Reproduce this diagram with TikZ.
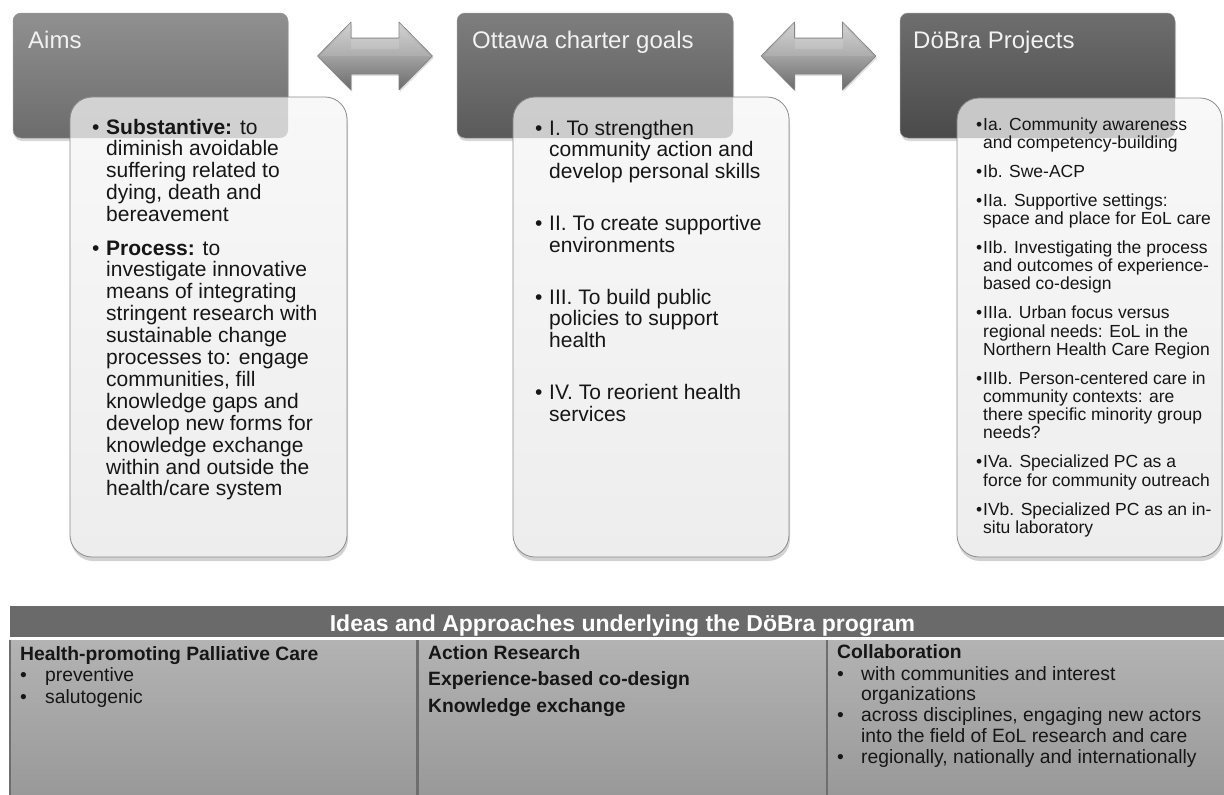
\documentclass[tikz,border=0pt]{standalone}
\usepackage{fontspec}
\setmainfont{Liberation Sans}
\usetikzlibrary{shadows}
\definecolor{hA1}{HTML}{909090}\definecolor{hA2}{HTML}{6C6C6C}
\definecolor{hB1}{HTML}{7E7E7E}\definecolor{hB2}{HTML}{5A5A5A}
\definecolor{hC1}{HTML}{6E6E6E}\definecolor{hC2}{HTML}{4A4A4A}
\definecolor{cb1}{HTML}{F8F8F8}\definecolor{cb2}{HTML}{EDEDED}
\definecolor{cbd}{HTML}{8C8C8C}
\definecolor{tbarc}{HTML}{6A6A6A}
\definecolor{tb1}{HTML}{B3B3B3}\definecolor{tb2}{HTML}{999999}
\definecolor{tdiv}{HTML}{6E6E6E}
\definecolor{ink}{HTML}{161616}
\definecolor{arw1}{HTML}{CDCDCD}\definecolor{arw2}{HTML}{A2A2A2}\definecolor{arw3}{HTML}{6A6A6A}
\newcommand{\bitem}[2]{\hangindent=#1\hangafter=1\noindent\makebox[#1][l]{\textbullet}#2\par}
\tikzset{
  hdr/.style={rectangle, rounded corners=8pt, minimum width=275pt, minimum height=125pt,
    inner sep=0pt, outer sep=0pt, draw=black!40, line width=0.5pt,
    drop shadow={shadow xshift=1pt, shadow yshift=-3pt, opacity=0.3}},
  hdrtext/.style={anchor=base west, inner sep=0pt, text=white!95!black,
    font=\fontsize{24}{28}\selectfont},
  cbox/.style={rectangle, rounded corners=22pt, inner sep=0pt, outer sep=0pt,
    top color=cb1, bottom color=cb2, draw=cbd, line width=0.8pt,
    drop shadow={shadow xshift=1pt, shadow yshift=-4pt, opacity=0.35}},
  bodytext/.style={anchor=base west, inner sep=0pt, text=ink},
  arrowshape/.style={top color=arw1, bottom color=arw3, middle color=arw2,
    draw=black!50, line width=0.6pt, line join=round,
    drop shadow={shadow xshift=1pt, shadow yshift=-2pt, opacity=0.25}},
  titlebar/.style={rectangle, fill=tbarc, inner sep=0pt, outer sep=0pt},
  tcell/.style={rectangle, top color=tb1, bottom color=tb2, inner sep=0pt, outer sep=0pt,
    minimum height=155pt},
  divider/.style={draw=tdiv, line width=2.5pt},
  dblarrow/.pic={
    \path[arrowshape] (-57.5,0) -- (-24,-34) -- (-24,-18) -- (24,-18) -- (24,-34)
      -- (57.5,0) -- (24,34) -- (24,18) -- (-24,18) -- (-24,34) -- cycle;
    \fill[white, opacity=0.14] (-24,-17) rectangle (24,-7);
    \fill[white, opacity=0.12] (-55,0) -- (-24,-31) -- (-24,-17) -- (24,-17) -- (24,-31)
      -- (55,0) -- cycle;
  }
}
\begin{document}
\begin{tikzpicture}[x=1pt, y=-1pt]
\useasboundingbox (0,0) rectangle (1224,795);
\fill[white] (0,0) rectangle (1224,795);

% headers
\node[hdr, top color=hA1, bottom color=hA2] (aimsH) at (150.5,75.5) {};
\node[hdr, top color=hB1, bottom color=hB2, minimum width=276pt] (ottH) at (595,75.5) {};
\node[hdr, top color=hC1, bottom color=hC2] (dobH) at (1037.5,75.5) {};
\node[hdrtext] (aimsT) at (28,48) {Aims};
\node[hdrtext] (ottT) at (472,48) {Ottawa charter goals};
\node[hdrtext] (dobT) at (913,48) {DöBra Projects};

% double arrows
\pic (arrA) at (375,56) {dblarrow};
\pic (arrB) at (818.5,56) {dblarrow};

% content boxes
\node[cbox, minimum width=277pt, minimum height=460pt] (aimsC) at (208.5,327) {};
\node[cbox, minimum width=276pt, minimum height=460pt] (ottC) at (651,327) {};
\node[cbox, minimum width=265pt, minimum height=459pt] (dobC) at (1089.5,327.5) {};

% header showing through the content boxes
\begin{scope}
  \clip[rounded corners=22pt] (aimsC.north west) rectangle (aimsC.south east);
  \fill[hA2, opacity=0.27, rounded corners=8pt] (aimsH.north west) rectangle (aimsH.south east);
\end{scope}
\begin{scope}
  \clip[rounded corners=22pt] (ottC.north west) rectangle (ottC.south east);
  \fill[hB2, opacity=0.27, rounded corners=8pt] (ottH.north west) rectangle (ottH.south east);
\end{scope}
\begin{scope}
  \clip[rounded corners=22pt] (dobC.north west) rectangle (dobC.south east);
  \fill[hC2, opacity=0.27, rounded corners=8pt] (dobH.north west) rectangle (dobH.south east);
\end{scope}

% content texts
\node[bodytext] (aimsL) at (92,134) {\parbox[t]{250pt}{\fontsize{21}{21.9}\selectfont
\bitem{14pt}{\textbf{Substantive:} to\\diminish avoidable\\suffering related to\\dying, death and\\bereavement}
\vspace{11.5pt}
\bitem{14pt}{\textbf{Process:} to\\investigate innovative\\means of integrating\\stringent research with\\sustainable change\\processes to: engage\\communities, fill\\knowledge gaps and\\develop new forms for\\knowledge exchange\\within and outside the\\health/care system}}};

\node[bodytext] (ottL) at (535,135) {\parbox[t]{250pt}{\fontsize{21}{21.7}\selectfont
\bitem{14pt}{I. To strengthen\\community action and\\develop personal skills}
\vspace{30.3pt}
\bitem{14pt}{II. To create supportive\\environments}
\vspace{30.3pt}
\bitem{14pt}{III. To build public\\policies to support\\health}
\vspace{30.3pt}
\bitem{14pt}{IV. To reorient health\\services}}};

\node[bodytext] (dobL) at (976,130) {\parbox[t]{245pt}{\fontsize{17.5}{18.2}\selectfont
\bitem{7pt}{Ia. Community awareness\\and competency-building}
\vspace{10.8pt}
\bitem{7pt}{Ib. Swe-ACP}
\vspace{10.8pt}
\bitem{7pt}{IIa. Supportive settings:\\space and place for EoL care}
\vspace{10.8pt}
\bitem{7pt}{IIb. Investigating the process\\and outcomes of experience-\\based co-design}
\vspace{10.8pt}
\bitem{7pt}{IIIa. Urban focus versus\\regional needs: EoL in the\\Northern Health Care Region}
\vspace{10.8pt}
\bitem{7pt}{IIIb. Person-centered care in\\community contexts: are\\there specific minority group\\needs?}
\vspace{10.8pt}
\bitem{7pt}{IVa. Specialized PC as a\\force for community outreach}
\vspace{10.8pt}
\bitem{7pt}{IVb. Specialized PC as an in-\\situ laboratory}}};

% bottom table
\node[titlebar, minimum width=1214pt, minimum height=31pt] (tbar) at (617,621.5) {};
\node[anchor=base, inner sep=0pt, text=white, font=\fontsize{23}{26}\selectfont\bfseries]
  (ttl) at (622.5,631) {Ideas and Approaches underlying the DöBra program};
\node[tcell, minimum width=407.5pt] (c1) at (213.75,717.5) {};
\node[tcell, minimum width=409.5pt] (c2) at (622.25,717.5) {};
\node[tcell, minimum width=397pt] (c3) at (1025.5,717.5) {};
\draw[divider] (c1.north west) -- (c1.south west);
\draw[divider] (c1.north east) -- (c1.south east);
\draw[divider] (c2.north east) -- (c2.south east);

\node[bodytext] (c1t) at (20,660) {\parbox[t]{390pt}{\fontsize{19.3}{21.5}\selectfont
\noindent\textbf{Health-promoting Palliative Care}\par
\bitem{25pt}{preventive}
\bitem{25pt}{salutogenic}}};
\node[bodytext] (c2t) at (428,659) {\parbox[t]{390pt}{\fontsize{19.3}{26.5}\selectfont\bfseries
\noindent Action Research\\Experience-based co-design\\Knowledge exchange}};
\node[bodytext] (c3t) at (837,658) {\parbox[t]{385pt}{\fontsize{19.3}{20.8}\selectfont
\noindent\textbf{Collaboration}\par\vspace{1.2pt}
\bitem{24pt}{with communities and interest\\organizations}
\bitem{24pt}{across disciplines, engaging new actors\\into the field of EoL research and care}
\bitem{24pt}{regionally, nationally and internationally}}};
\end{tikzpicture}
\end{document}
